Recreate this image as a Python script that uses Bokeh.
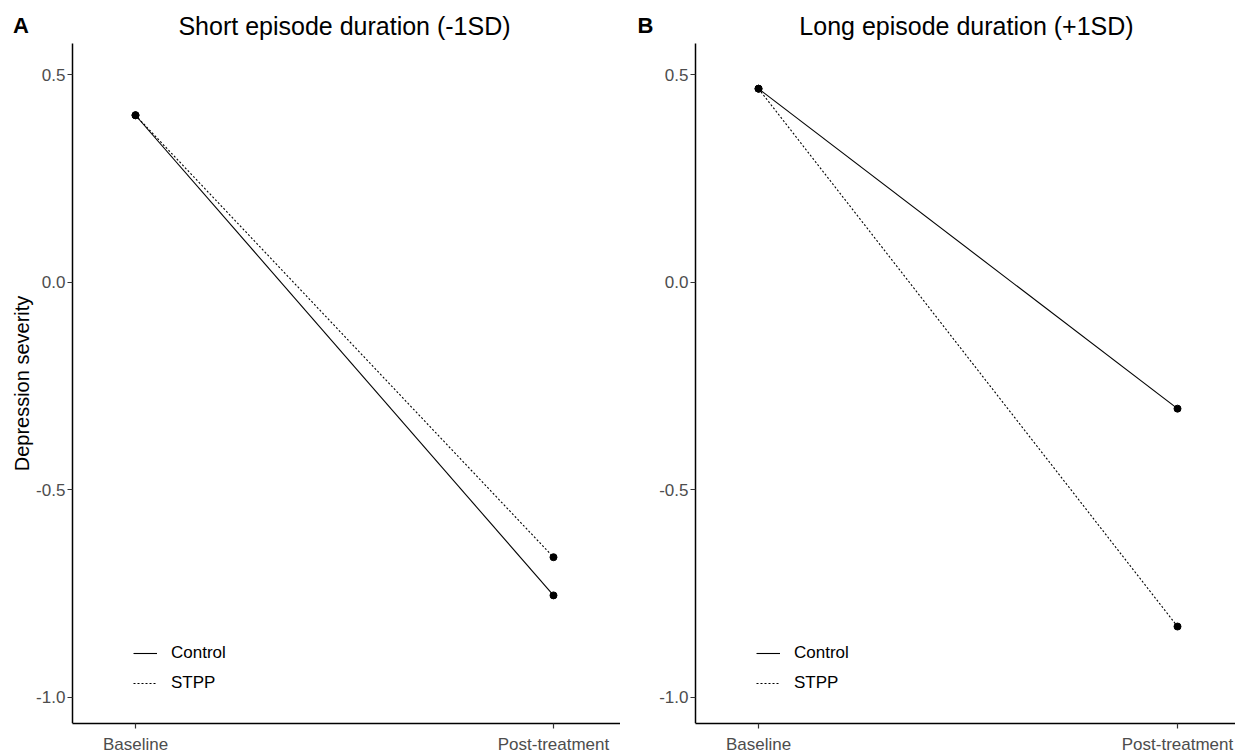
from bokeh.plotting import figure
from bokeh.layouts import row
from bokeh.models import Range1d, FixedTicker, PrintfTickFormatter, Label, Legend, LegendItem
from bokeh.embed import file_html
from bokeh.resources import INLINE

# ---- data ----
timepoints = ["Baseline", "Post-treatment"]
groups = ["Control", "STPP"]
short_control = [0.403, -0.754]
short_stpp = [0.403, -0.662]
long_control = [0.467, -0.304]
long_stpp = [0.467, -0.829]
y_ticks = [-1.0, -0.5, 0.0, 0.5]
panel_titles = ["Short episode duration (-1SD)", "Long episode duration (+1SD)"]
panel_tags = ["A", "B"]

FONT = "Liberation Sans"
xpos = list(range(len(timepoints)))

Y_LO, Y_HI = -1.0627, 0.576      # visible axis extent
Y_TOP = 0.6795                   # frame extends upward to hold the titles
FRAME_H = 723


def make_panel(title, tag, control, stpp, fw, x_start, x_end, ax_x, ylabel,
               title_x, tag_x, legend_x):
    p = figure(frame_width=fw, frame_height=FRAME_H, output_backend="svg",
               toolbar_location=None,
               x_range=Range1d(x_start, x_end), y_range=Range1d(Y_LO, Y_TOP),
               min_border_left=0, min_border_right=0,
               min_border_top=0, min_border_bottom=0)
    p.grid.visible = False
    p.outline_line_color = None
    p.background_fill_color = "white"

    for ax in (p.xaxis[0], p.yaxis[0]):
        ax.axis_line_color = "black"
        ax.axis_line_width = 1.5
        ax.major_tick_line_color = "#333333"
        ax.major_tick_line_width = 1.2
        ax.major_tick_out = 5
        ax.major_tick_in = 0
        ax.minor_tick_line_color = None
        ax.major_label_text_font = FONT
        ax.major_label_text_font_size = "17px"
        ax.major_label_text_color = "#4d4d4d"
        ax.major_label_standoff = 2
    p.xaxis.major_label_standoff = 6

    p.xaxis.ticker = FixedTicker(ticks=xpos)
    p.xaxis.major_label_overrides = {i: t for i, t in zip(xpos, timepoints)}
    p.xaxis.bounds = (ax_x, x_end)
    p.yaxis.ticker = FixedTicker(ticks=y_ticks)
    p.yaxis.formatter = PrintfTickFormatter(format="%.1f")
    p.yaxis.bounds = (Y_LO, Y_HI)
    p.yaxis.fixed_location = ax_x
    if ylabel:
        p.yaxis.axis_label = ylabel
        p.yaxis.axis_label_text_font = FONT
        p.yaxis.axis_label_text_font_size = "20px"
        p.yaxis.axis_label_text_font_style = "normal"
        p.yaxis.axis_label_text_color = "black"
        p.yaxis.axis_label_standoff = 0

    r1 = p.line(xpos, control, line_color="black", line_width=1.1)
    r2 = p.line(xpos, stpp, line_color="black", line_width=1.1, line_dash="2 2")
    p.scatter(xpos, control, size=7, color="black")
    p.scatter(xpos, stpp, size=7, color="black")

    legend = Legend(items=[LegendItem(label=groups[0], renderers=[r1]),
                           LegendItem(label=groups[1], renderers=[r2])],
                    location=(legend_x, 27), padding=0, margin=0, spacing=4,
                    glyph_width=24, glyph_height=26, label_standoff=14,
                    label_text_font=FONT, label_text_font_size="17px",
                    label_text_color="black", border_line_color=None,
                    background_fill_alpha=0)
    p.add_layout(legend, "center")

    p.add_layout(Label(x=title_x, y=FRAME_H - 25, x_units="screen", y_units="screen",
                       text=title, text_align="center", text_baseline="alphabetic",
                       text_font=FONT, text_font_size="25px", text_color="black"))
    p.add_layout(Label(x=tag_x, y=FRAME_H - 25, x_units="screen", y_units="screen",
                       text=tag, text_align="left", text_baseline="alphabetic",
                       text_font=FONT, text_font_size="22px", text_font_style="bold",
                       text_color="black"))
    return p


pa = make_panel(panel_titles[0], panel_tags[0], short_control, short_stpp,
                620, -0.3230, 1.1603, -0.151, "Depression severity", 344, 12.5, 133)
pb = make_panel(panel_titles[1], panel_tags[1], long_control, long_stpp,
                615, -0.3294, 1.1384, -0.1504, None, 346, 17, 136)

layout = row(pa, pb)
open("out.html", "w").write(file_html(layout, INLINE))
